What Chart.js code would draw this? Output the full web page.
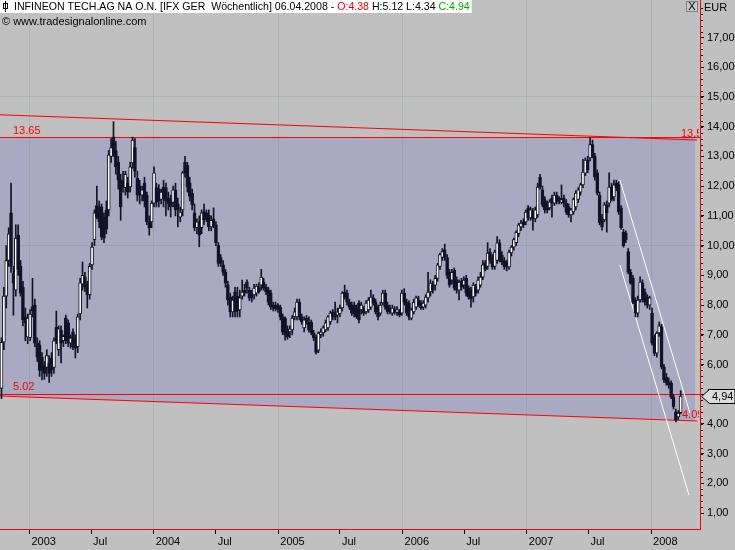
<!DOCTYPE html>
<html>
<head>
<meta charset="utf-8">
<script src="https://cdn.jsdelivr.net/npm/chart.js@4.4.1/dist/chart.umd.min.js"></script>
<style>
  html, body { margin: 0; padding: 0; background: #c0c0c0; }
  #wrap { width: 735px; height: 550px; position: relative; }
</style>
</head>
<body>
<div id="wrap"><canvas id="chart" width="735" height="550"></canvas></div>
<script>
// Wochenkerzen (Infineon, Okt 2002 - Apr 2008), Werte aus dem Bild geschaetzt
const opens = [5.2,6.75,8.3,9.5,11.1,9.07,8.5,10.35,9.3,8.6,
  7.6,6.92,6.9,7.95,8.0,6.72,6.65,6.25,5.98,5.9,
  6.05,6.22,5.9,7.25,6.5,7.15,6.8,7.56,7.4,6.72,
  7.1,6.85,6.6,7.7,8.7,8.95,8.7,8.35,9.35,10.2,
  11.35,11.3,11.3,10.95,11.2,11.2,13.0,13.66,13.2,12.8,
  12.2,12.2,11.95,12.1,11.97,12.78,13.3,12.27,12.0,11.7,
  12.1,11.7,10.8,10.8,11.43,11.95,11.9,11.55,11.97,11.95,
  11.6,11.5,11.45,11.88,11.4,10.96,11.2,12.8,12.7,12.1,
  11.77,11.1,10.6,10.8,10.6,11.13,11.1,11.03,10.63,10.9,
  10.7,10.0,9.6,9.35,9.1,8.68,8.27,7.77,8.44,8.3,
  7.84,8.3,8.5,8.77,8.5,8.4,8.34,8.4,8.6,8.67,
  8.77,8.6,8.5,8.4,8.0,8.0,8.0,7.93,7.6,7.56,
  7.16,7.1,7.16,7.6,7.6,8.1,7.6,7.23,7.55,7.43,
  7.43,7.06,6.93,6.48,7.0,7.06,7.16,7.23,7.43,7.77,
  7.73,7.66,7.7,7.9,8.44,8.4,8.1,8.0,8.0,7.9,
  8.07,7.84,7.84,7.77,7.84,7.93,8.24,8.1,7.93,7.73,
  8.07,8.4,8.0,7.9,7.73,7.85,7.75,7.77,7.73,8.4,
  8.1,8.07,7.56,7.77,7.93,8.17,8.07,7.93,8.0,8.24,
  8.44,8.67,8.67,8.9,9.3,9.6,9.86,9.6,9.1,8.84,
  9.17,8.84,8.5,8.8,8.67,8.9,8.57,8.5,8.27,8.6,
  8.5,8.67,8.94,9.4,9.3,9.78,9.6,9.3,9.5,10.09,
  9.68,9.5,9.44,9.28,9.75,9.95,10.1,10.4,10.63,10.8,
  10.8,11.27,10.93,11.15,10.9,11.03,12.3,11.88,11.55,11.43,
  11.27,11.6,11.43,11.7,11.6,11.45,11.6,11.43,11.3,11.03,
  11.13,11.3,11.55,11.8,12.04,12.44,12.88,12.95,13.4,13.0,
  12.45,11.7,10.96,10.86,11.37,11.43,11.97,11.64,12.1,12.04,
  11.27,10.45,10.42,9.8,9.1,8.9,8.17,7.73,8.17,8.74,
  8.44,8.27,8.0,7.73,6.89,6.38,7.06,7.27,5.92,5.58,
  5.41,5.38,4.91,4.41,4.24,4.38];
const highs = [6.9,8.6,10.0,10.6,12.1,9.3,10.7,10.7,9.5,8.8,
  7.9,7.7,7.85,8.9,8.2,6.9,6.8,6.4,6.1,6.5,
  6.3,6.4,6.9,7.8,7.3,7.3,7.0,7.66,7.5,7.0,
  7.2,7.0,7.7,8.9,9.45,9.1,8.8,9.4,10.1,11.2,
  12.0,11.5,11.4,11.1,11.5,13.2,13.6,14.17,13.5,13.0,
  12.4,12.5,12.5,12.3,12.8,13.65,13.6,12.5,12.2,12.0,
  12.3,11.8,11.0,11.5,12.65,12.1,12.05,11.9,12.2,12.1,
  11.8,11.7,12.0,12.1,11.6,11.3,12.5,13.0,12.8,12.3,
  11.9,11.4,10.9,11.0,11.2,11.4,11.2,11.2,11.0,11.27,
  10.8,10.1,9.7,9.5,9.2,8.8,8.4,8.3,8.6,8.6,
  8.5,8.84,8.7,8.85,8.6,8.5,8.7,8.7,8.75,9.2,
  8.9,8.7,8.6,8.5,8.1,8.1,8.05,8.0,7.7,7.6,
  7.3,7.3,7.65,7.9,8.2,8.2,7.7,7.6,7.65,7.6,
  7.5,7.15,7.0,7.1,7.2,7.3,7.5,7.65,7.8,7.85,
  8.1,7.9,8.0,8.45,8.67,8.5,8.2,8.1,8.1,8.0,
  8.15,8.1,7.95,8.15,8.25,8.5,8.35,8.2,8.0,8.1,
  8.5,8.5,8.1,8.0,8.0,7.95,7.95,7.85,8.5,8.55,
  8.2,8.15,7.9,8.2,8.3,8.3,8.15,8.15,8.35,9.1,
  8.85,8.8,9.0,9.4,9.75,9.9,10.05,9.7,9.2,9.2,
  9.25,8.95,8.85,8.9,8.95,9.0,8.65,8.6,8.75,8.7,
  8.95,9.1,9.5,9.5,10.1,9.9,9.7,9.85,10.3,10.2,
  9.8,9.6,9.5,9.85,10.0,10.25,10.5,10.75,10.85,10.9,
  11.2,11.35,11.3,11.25,11.3,12.1,12.4,12.0,11.65,11.5,
  11.55,11.7,11.8,11.8,11.65,12.04,11.7,11.55,11.4,11.25,
  11.6,11.85,11.95,12.1,12.9,12.95,13.0,13.63,13.55,13.1,
  12.55,11.8,11.05,11.45,11.5,12.45,12.1,12.2,12.2,12.15,
  11.35,10.55,10.5,9.9,9.2,9.0,8.25,8.3,8.95,8.85,
  8.55,8.35,8.3,7.9,7.0,7.1,7.43,7.35,6.0,5.7,
  5.55,5.45,5.0,4.5,4.45,5.12];
const lows = [4.85,6.5,7.9,9.3,9.1,7.66,8.3,9.0,8.3,7.3,
  6.8,6.7,6.8,7.6,6.6,6.1,5.6,5.48,5.5,5.6,
  5.4,5.6,5.7,6.7,6.3,6.05,6.6,6.7,6.6,6.55,
  6.5,6.22,6.4,7.5,8.5,8.45,7.9,8.2,9.2,10.0,
  10.9,10.6,10.2,10.1,10.4,11.0,12.8,13.0,12.4,11.9,
  10.85,11.8,11.7,11.6,11.8,12.6,12.3,11.5,11.4,11.5,
  11.3,10.7,10.35,10.6,11.3,11.3,11.3,11.4,11.3,11.0,
  11.2,10.96,11.3,11.0,10.63,10.8,11.0,12.3,11.8,11.5,
  11.2,10.5,10.4,9.96,10.4,10.7,10.8,10.5,10.5,10.6,
  10.0,9.3,9.3,9.0,8.6,8.0,7.6,7.6,7.6,7.6,
  7.6,8.2,8.3,8.4,8.15,8.1,8.2,8.3,8.4,8.5,
  8.5,8.35,8.0,7.85,7.8,7.8,7.75,7.5,7.0,6.82,
  6.85,6.9,7.0,7.5,7.5,7.5,7.35,7.1,7.35,7.1,
  7.0,6.8,6.35,6.4,6.9,6.95,7.1,7.15,7.35,7.5,
  7.5,7.4,7.6,7.8,8.2,8.0,7.85,7.65,7.6,7.55,
  7.4,7.7,7.65,7.7,7.75,7.85,8.0,7.7,7.5,7.65,
  8.0,7.85,7.7,7.7,7.65,7.7,7.65,7.6,7.65,8.0,
  7.65,7.5,7.5,7.7,7.85,7.95,7.85,7.85,7.9,8.1,
  8.3,8.4,8.5,8.8,9.2,9.5,9.5,8.9,8.6,8.7,
  8.5,8.4,8.17,8.5,8.55,8.3,8.2,7.93,8.1,8.3,
  8.4,8.6,8.85,9.15,9.2,9.4,9.2,9.2,9.4,9.45,
  9.35,9.2,9.15,9.2,9.65,9.85,10.0,10.3,10.5,10.6,
  10.7,10.85,10.85,10.52,10.8,10.95,11.9,11.3,11.1,11.1,
  11.2,10.96,11.35,11.4,11.4,11.4,11.3,11.05,10.95,10.8,
  11.05,11.2,11.45,11.7,11.95,12.35,12.45,12.85,12.95,12.2,
  11.7,10.7,10.52,10.8,10.45,11.3,11.5,11.5,11.85,11.05,
  10.55,9.95,10.1,9.05,8.7,8.05,7.6,7.6,8.1,8.1,
  8.0,7.9,7.85,6.65,6.3,6.25,6.95,5.85,5.4,5.3,
  5.2,4.85,4.5,4.07,4.15,4.34];
const closes = [6.75,8.3,9.5,10.4,9.3,8.74,10.25,9.2,8.4,7.5,
  7.4,7.56,7.7,7.8,6.72,6.25,5.8,5.8,5.7,6.3,
  5.7,5.82,6.8,6.8,7.2,6.72,6.95,6.8,6.72,6.9,
  6.6,6.55,7.6,8.75,9.0,8.6,8.35,9.3,9.95,11.1,
  10.95,10.8,10.3,10.25,10.55,13.05,13.3,13.12,12.65,12.2,
  11.3,11.97,12.4,11.8,12.65,13.55,12.5,11.7,11.7,11.88,
  11.5,10.8,10.6,11.43,12.45,11.47,11.5,11.8,11.6,11.5,
  11.4,11.3,11.88,11.2,11.2,11.13,12.45,12.45,11.97,11.65,
  11.37,10.6,10.8,10.35,11.1,10.86,10.9,10.63,10.85,10.7,
  10.1,9.4,9.4,9.1,8.74,8.17,7.77,8.17,7.77,7.8,
  8.24,8.44,8.4,8.57,8.24,8.24,8.57,8.64,8.45,8.94,
  8.57,8.44,8.1,7.93,7.9,7.87,7.85,7.6,7.09,7.0,
  6.93,7.2,7.56,7.77,8.1,7.6,7.43,7.5,7.45,7.16,
  7.06,6.9,6.41,7.06,7.09,7.23,7.4,7.6,7.73,7.6,
  7.6,7.77,7.9,8.4,8.27,8.1,7.93,7.73,7.7,7.6,
  7.5,8.0,7.73,8.07,8.17,8.27,8.07,7.77,7.6,8.0,
  8.4,7.93,7.77,7.77,7.9,7.75,7.85,7.66,8.4,8.1,
  7.73,7.6,7.84,8.1,8.24,8.0,7.9,8.07,8.27,8.44,
  8.74,8.5,8.9,9.35,9.7,9.8,9.6,9.0,8.67,9.1,
  8.57,8.5,8.77,8.6,8.84,8.4,8.27,8.2,8.67,8.4,
  8.84,8.94,9.35,9.2,9.75,9.5,9.28,9.78,10.09,9.5,
  9.44,9.28,9.28,9.78,9.95,10.2,10.45,10.7,10.76,10.7,
  11.13,10.93,11.2,10.9,11.2,11.97,11.97,11.37,11.2,11.2,
  11.47,11.43,11.7,11.5,11.47,11.55,11.43,11.13,11.03,11.2,
  11.55,11.77,11.88,12.04,12.47,12.88,12.55,13.4,13.0,12.3,
  11.77,10.76,10.63,11.37,11.1,11.97,11.55,12.04,11.94,11.13,
  10.6,10.0,10.19,9.1,8.74,8.1,7.73,8.17,8.77,8.17,
  8.1,8.0,8.24,6.72,6.38,7.06,7.3,5.92,5.48,5.38,
  5.31,4.91,4.57,4.13,4.37,4.94];

// Zeitachse: Kerze 0 = Woche vom 11.10.2002
const firstWeek = '2002-10-11';
const tickDates = ['2003-01-01','2003-07-01','2004-01-01','2004-07-01','2005-01-01','2005-07-01',
  '2006-01-01','2006-07-01','2007-01-01','2007-07-01','2008-01-01'];
const tickLabels = ['2003','Jul','2004','Jul','2005','Jul','2006','Jul','2007','Jul','2008'];
const priceTicks = [1,2,3,4,5,6,7,8,9,10,11,12,13,14,15,16,17];

// Hilfslinien: [Kerzenindex, Kurs]
const levels = [13.65, 5.02];
const upperTrend = [[-0.63, 14.40], [291.9, 13.55]];
const lowerTrend = [[-0.63, 4.94], [291.9, 4.10]];
const channelTop = [[259.5, 12.21], [288.9, 4.37]];
const channelBottom = [[259.5, 9.35], [288.5, 1.61]];
const lastClose = 4.94;

const DAY = 86400000;
const weekIndex = d => (Date.parse(d) - Date.parse(firstWeek)) / (7 * DAY);
const tickPos = tickDates.map(weekIndex);

const dark = '#121228';
const red = '#ff0000';
const gridCol = 'rgba(90,150,90,0.22)';
const font = "'Liberation Sans', Arial, sans-serif";

const wicks = highs.map((h, i) => ({ x: i, y: [lows[i], h] }));
const bodies = opens.map((o, i) => ({ x: i, y: [Math.min(o, closes[i]), Math.max(o, closes[i])] }));

const overlay = {
    id: 'overlay',
    beforeDraw(chart) {
        const c = chart.ctx;
        const xs = chart.scales.x, ys = chart.scales.y;
        const a = chart.chartArea;
        c.save();
        c.fillStyle = '#c0c0c0';
        c.fillRect(0, 0, chart.width, chart.height);
        // blaue Flaeche zwischen 13.65 und unterer Trendlinie
        const shadeEnd = 291.0;
        const lowAt = t => lowerTrend[0][1] + (lowerTrend[1][1] - lowerTrend[0][1]) * (t - lowerTrend[0][0]) / (lowerTrend[1][0] - lowerTrend[0][0]);
        c.fillStyle = '#a9a9c2';
        c.beginPath();
        c.moveTo(a.left, ys.getPixelForValue(levels[0]));
        c.lineTo(xs.getPixelForValue(shadeEnd), ys.getPixelForValue(levels[0]));
        c.lineTo(xs.getPixelForValue(shadeEnd), ys.getPixelForValue(lowAt(shadeEnd)));
        c.lineTo(a.left, ys.getPixelForValue(lowAt(xs.min)));
        c.closePath();
        c.fill();
        c.restore();
    },
    beforeDatasetsDraw(chart) {
        const c = chart.ctx;
        const xs = chart.scales.x, ys = chart.scales.y;
        const a = chart.chartArea;
        const line = (pts, col) => {
            c.strokeStyle = col;
            c.lineWidth = 1;
            c.beginPath();
            c.moveTo(xs.getPixelForValue(pts[0][0]), ys.getPixelForValue(pts[0][1]));
            c.lineTo(xs.getPixelForValue(pts[1][0]), ys.getPixelForValue(pts[1][1]));
            c.stroke();
        };
        c.save();
        c.beginPath();
        c.rect(a.left, a.top, a.right - a.left, a.bottom - a.top);
        c.clip();
        levels.forEach(v => {
            const y = Math.round(ys.getPixelForValue(v)) + 0.5;
            c.strokeStyle = red;
            c.lineWidth = 1;
            c.beginPath();
            c.moveTo(a.left, y);
            c.lineTo(a.right, y);
            c.stroke();
        });
        line(upperTrend, red);
        line(lowerTrend, red);
        line(channelTop, '#ffffff');
        line(channelBottom, '#ffffff');

        c.font = '11px ' + font;
        c.fillStyle = red;
        c.textBaseline = 'bottom';
        c.textAlign = 'left';
        c.fillText('13.65', 13, ys.getPixelForValue(levels[0]) - 1);
        c.fillText('5.02', 13, ys.getPixelForValue(levels[1]) - 1);
        c.restore();

        c.save();
        c.beginPath();
        c.rect(0, 0, 699, chart.height);
        c.clip();
        c.font = '11px ' + font;
        c.fillStyle = red;
        c.textBaseline = 'bottom';
        c.fillText('13.56', 681, ys.getPixelForValue(upperTrend[1][1]) - 1);
        c.fillText('4.09', 682, ys.getPixelForValue(lowerTrend[1][1]) - 1);
        c.restore();
    },
    afterDraw(chart) {
        const c = chart.ctx;
        const ys = chart.scales.y;
        const a = chart.chartArea;
        c.save();
        // kleine Zwischenstriche an der Kursachse
        c.strokeStyle = '#000';
        c.lineWidth = 1;
        for (let v = 1; v <= 18; v += 0.2) {
            const y = Math.round(ys.getPixelForValue(v)) + 0.5;
            if (y < a.top || y > a.bottom) continue;
            c.beginPath();
            c.moveTo(a.right + 1, y);
            c.lineTo(a.right + 3, y);
            c.stroke();
        }
        // Titelzeile
        c.font = '10.6px ' + font;
        c.textBaseline = 'middle';
        c.textAlign = 'left';
        const parts = [
            ['INFINEON TECH.AG NA O.N. [IFX GER  Wöchentlich] 06.04.2008 - ', '#000'],
            ['O:4.38', '#ff0000'],
            [' H:5.12 L:4.34 ', '#000'],
            ['C:4.94', '#00b000']
        ];
        const titleW = parts.reduce((s, p) => s + c.measureText(p[0]).width, 0);
        c.fillStyle = '#ffffff';
        c.fillRect(0, 0, 14 + titleW + 2, 13);
        c.fillStyle = '#000';
        c.fillRect(5, 1, 1, 11);
        c.strokeStyle = '#000';
        c.strokeRect(3.5, 3.5, 4, 5);
        let x = 14;
        parts.forEach(p => {
            c.fillStyle = p[1];
            c.fillText(p[0], x, 7);
            x += c.measureText(p[0]).width;
        });
        c.font = '11px ' + font;
        c.fillStyle = '#000';
        c.fillText('© www.tradesignalonline.com', 2, 22);
        // Schliessen-Knopf und Waehrung
        c.fillStyle = '#c8c8c8';
        c.fillRect(686, 1, 12, 11);
        c.strokeStyle = '#808080';
        c.strokeRect(686.5, 1.5, 11, 10);
        c.fillStyle = '#000';
        c.textAlign = 'center';
        c.fillText('X', 692, 7);
        c.textAlign = 'left';
        c.fillText('EUR', 704, 8);
        // Kursmarke letzter Schluss
        const yc = Math.round(ys.getPixelForValue(lastClose)) + 0.5;
        c.fillStyle = '#dcdcdc';
        c.strokeStyle = '#000';
        c.beginPath();
        c.moveTo(a.right + 1.5, yc);
        c.lineTo(a.right + 9.5, yc - 7);
        c.lineTo(735, yc - 7);
        c.lineTo(735, yc + 7);
        c.lineTo(a.right + 9.5, yc + 7);
        c.closePath();
        c.fill();
        c.stroke();
        c.fillStyle = '#000';
        c.fillText(lastClose.toFixed(2).replace('.', ','), a.right + 12, yc);
        c.restore();
    }
};

new Chart(document.getElementById('chart'), {
    type: 'bar',
    data: {
        datasets: [
            {
                label: 'Koerper',
                data: bodies,
                grouped: false,
                order: 0,
                barThickness: 3,
                borderWidth: 1,
                borderSkipped: false,
                borderColor: dark,
                backgroundColor: ctx => closes[ctx.dataIndex] >= opens[ctx.dataIndex] ? '#ffffff' : dark
            },
            {
                label: 'Docht',
                data: wicks,
                grouped: false,
                order: 1,
                barThickness: 1,
                borderWidth: 0,
                backgroundColor: dark
            }
        ]
    },
    options: {
        responsive: false,
        animation: false,
        layout: { padding: 0 },
        plugins: {
            legend: { display: false },
            tooltip: { enabled: false }
        },
        scales: {
            x: {
                type: 'linear',
                min: -0.63,
                max: 293.12,
                offset: false,
                afterBuildTicks: s => { s.ticks = tickPos.map(v => ({ value: v })); },
                afterFit: s => { s.height = 21; s.paddingLeft = 0; s.paddingRight = 0; },
                ticks: {
                    autoSkip: false,
                    maxRotation: 0,
                    align: 'start',
                    labelOffset: 2,
                    padding: 1,
                    color: '#000',
                    font: { family: font, size: 11 },
                    callback: (v, i) => tickLabels[i]
                },
                grid: {
                    offset: false,
                    color: ctx => (ctx.tick && tickLabels[ctx.index] !== 'Jul') ? gridCol : 'rgba(0,0,0,0)',
                    tickColor: '#000',
                    tickLength: 5
                },
                border: { color: red, width: 1 }
            },
            y: {
                position: 'right',
                min: 0.4675,
                max: 18.261,
                afterBuildTicks: s => { s.ticks = priceTicks.map(v => ({ value: v })); },
                afterFit: s => { s.width = 35; s.paddingTop = 0; s.paddingBottom = 0; },
                ticks: {
                    padding: 3,
                    color: '#000',
                    font: { family: font, size: 11 },
                    callback: v => v.toFixed(2).replace('.', ',')
                },
                grid: {
                    color: ctx => (ctx.tick && ctx.tick.value % 5 === 0) ? gridCol : 'rgba(0,0,0,0)',
                    tickColor: '#000',
                    tickLength: 4
                },
                border: { color: red, width: 1 }
            }
        }
    },
    plugins: [overlay]
});
</script>
</body>
</html>
